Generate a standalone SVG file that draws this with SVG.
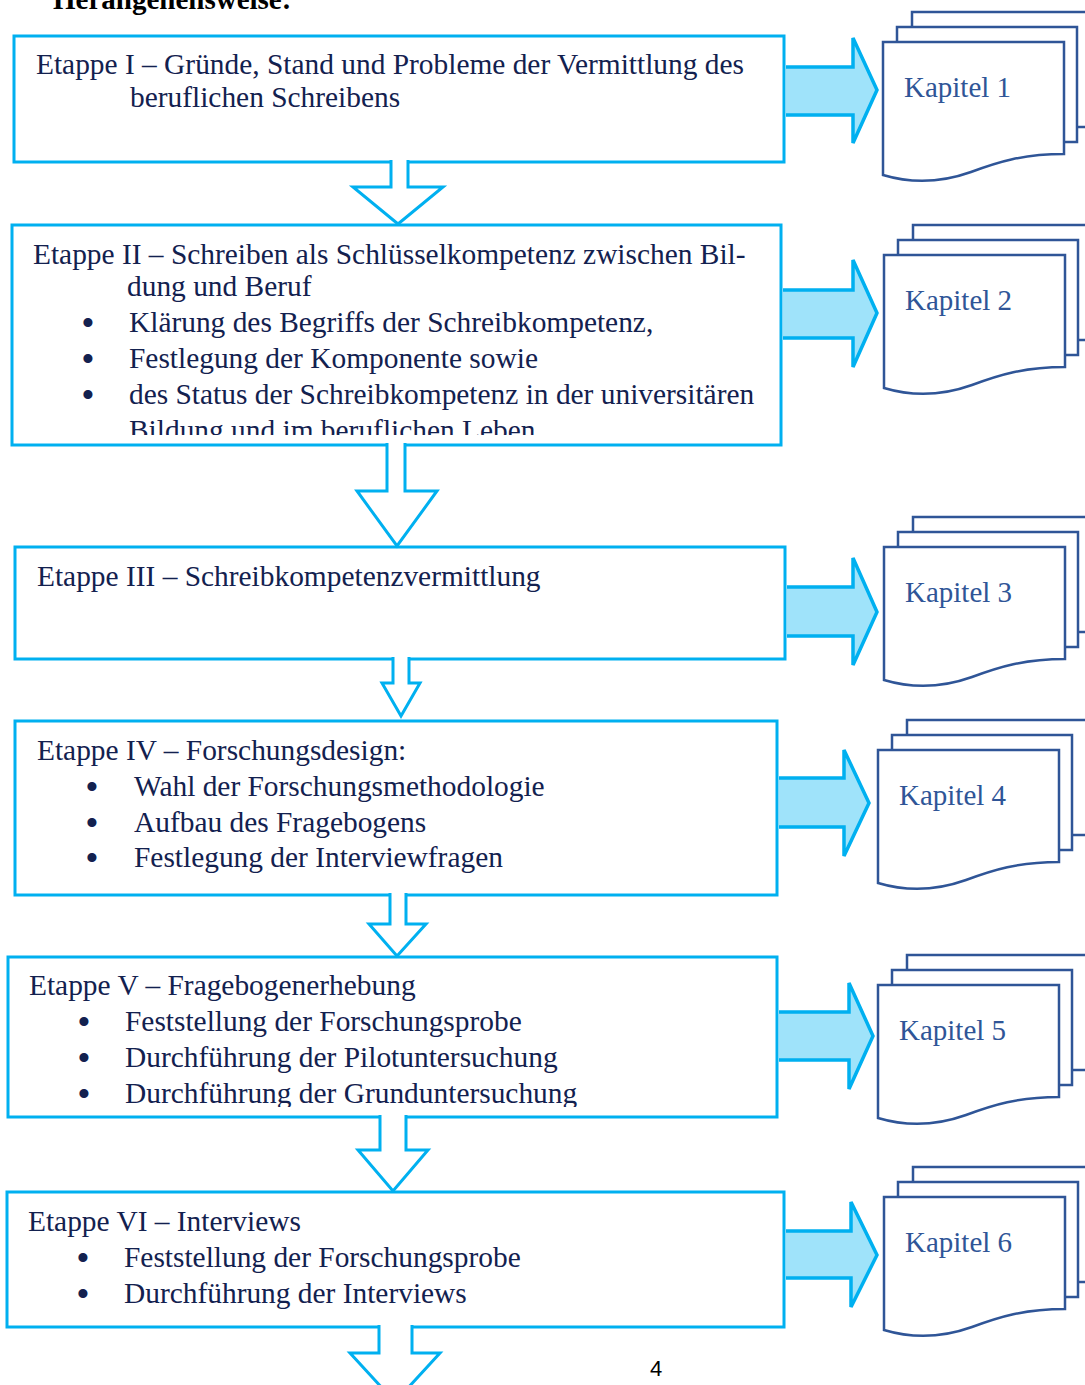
<svg xmlns="http://www.w3.org/2000/svg" xmlns:xlink="http://www.w3.org/1999/xlink" width="1085" height="1385" viewBox="0 0 1085 1385">
<style>
.box{fill:#fff;stroke:#00b0f0;stroke-width:3}
.down{fill:#fff;stroke:#00b0f0;stroke-width:3;stroke-linejoin:miter}
.right{fill:#9fe3fa;stroke:#00b0f0;stroke-width:3.5;stroke-linejoin:miter}
.pg{fill:#fff;stroke:#2f5597;stroke-width:2.5}
.t{font-family:"Liberation Serif","Times New Roman",serif;font-size:29.4px;fill:#13214f}
.k{font-family:"Liberation Serif","Times New Roman",serif;font-size:29px;fill:#2f5597}
.b{font-family:"Liberation Serif","Times New Roman",serif;font-size:38px;fill:#13214f;text-anchor:middle}
</style>
<defs>
<g id="doc">
<rect class="pg" x="29" y="-30" width="180" height="115"/>
<rect class="pg" x="14" y="-15" width="180" height="115"/>
<path class="pg" d="M0,0 H181 V112 C140,112 115,120 88,130 C60,140 30,142 0,133 Z"/>
</g>
<clipPath id="c2"><rect x="0" y="225" width="785" height="210"/></clipPath>
<clipPath id="c5"><rect x="0" y="957" width="785" height="150"/></clipPath>
</defs>
<rect width="1085" height="1385" fill="#fff"/>
<text x="53" y="9" style="font-family:'Liberation Serif',serif;font-size:29px;font-weight:bold;fill:#000">Herangehensweise:</text>

<g id="node1">
<rect class="box" x="14" y="36" width="770" height="126"/>
<text class="t" x="36" y="74">Etappe I – Gründe, Stand und Probleme der Vermittlung des</text>
<text class="t" x="130" y="107">beruflichen Schreibens</text>
</g>
<g id="node2">
<rect class="box" x="12" y="225" width="769" height="220"/>
<g clip-path="url(#c2)">
<text class="t" x="33" y="264">Etappe II – Schreiben als Schlüsselkompetenz zwischen Bil-</text>
<text class="t" x="127" y="296">dung und Beruf</text>
<text class="b" x="88" y="336">•</text><text class="t" x="129" y="332">Klärung des Begriffs der Schreibkompetenz,</text>
<text class="b" x="88" y="372">•</text><text class="t" x="129" y="368">Festlegung der Komponente sowie</text>
<text class="b" x="88" y="408">•</text><text class="t" x="129" y="404">des Status der Schreibkompetenz in der universitären</text>
<text class="t" x="129" y="440">Bildung und im beruflichen Leben</text>
</g>
</g>
<g id="node3">
<rect class="box" x="15" y="547" width="770" height="112"/>
<text class="t" x="37" y="586">Etappe III – Schreibkompetenzvermittlung</text>
</g>
<g id="node4">
<rect class="box" x="15" y="721" width="762" height="174"/>
<text class="t" x="37" y="760">Etappe IV – Forschungsdesign:</text>
<text class="b" x="92" y="800">•</text><text class="t" x="134" y="796">Wahl der Forschungsmethodologie</text>
<text class="b" x="92" y="836">•</text><text class="t" x="134" y="832">Aufbau des Fragebogens</text>
<text class="b" x="92" y="871">•</text><text class="t" x="134" y="867">Festlegung der Interviewfragen</text>
</g>
<g id="node5">
<rect class="box" x="8" y="957" width="769" height="160"/>
<g clip-path="url(#c5)">
<text class="t" x="29" y="995">Etappe V – Fragebogenerhebung</text>
<text class="b" x="84" y="1035">•</text><text class="t" x="125" y="1031">Feststellung der Forschungsprobe</text>
<text class="b" x="84" y="1071">•</text><text class="t" x="125" y="1067">Durchführung der Pilotuntersuchung</text>
<text class="b" x="84" y="1107">•</text><text class="t" x="125" y="1103">Durchführung der Grunduntersuchung</text>
</g>
</g>
<g id="node6">
<rect class="box" x="7" y="1192" width="777" height="135"/>
<text class="t" x="28" y="1231">Etappe VI – Interviews</text>
<text class="b" x="83" y="1271">•</text><text class="t" x="124" y="1267">Feststellung der Forschungsprobe</text>
<text class="b" x="83" y="1307">•</text><text class="t" x="124" y="1303">Durchführung der Interviews</text>
</g>

<g id="kapitel1"><use xlink:href="#doc" transform="translate(883,42)"/><text class="k" x="904" y="97">Kapitel 1</text></g>
<g id="kapitel2"><use xlink:href="#doc" transform="translate(884,255)"/><text class="k" x="905" y="310">Kapitel 2</text></g>
<g id="kapitel3"><use xlink:href="#doc" transform="translate(884,547)"/><text class="k" x="905" y="602">Kapitel 3</text></g>
<g id="kapitel4"><use xlink:href="#doc" transform="translate(878,750)"/><text class="k" x="899" y="805">Kapitel 4</text></g>
<g id="kapitel5"><use xlink:href="#doc" transform="translate(878,985)"/><text class="k" x="899" y="1040">Kapitel 5</text></g>
<g id="kapitel6"><use xlink:href="#doc" transform="translate(884,1197)"/><text class="k" x="905" y="1252">Kapitel 6</text></g>

<g id="connectors">
<path class="down" d="M391,160 V187 H353 L398,224 L443,187 H408 V160"/>
<path class="down" d="M387,443 V491 H357 L397,546 L437,491 H405 V443"/>
<path class="down" d="M393,657 V683 H382 L401,716 L420,683 H409 V657"/>
<path class="down" d="M390,893 V924 H369 L397,956 L426,924 H406 V893"/>
<path class="down" d="M380,1115 V1150 H358 L393,1191 L428,1150 H406 V1115"/>
<path class="down" d="M379,1325 V1353 H350 L395,1402 L440,1353 H412 V1325"/>

<path class="right" d="M786,67 H853 V38 L877,90 L853,143 V115 H786"/>
<path class="right" d="M783,290 H853 V260 L877,313 L853,367 V338 H783"/>
<path class="right" d="M787,587 H853 V558 L877,612 L853,665 V636 H787"/>
<path class="right" d="M779,778 H844 V750 L869,803 L844,856 V827 H779"/>
<path class="right" d="M779,1012 H849 V983 L873,1036 L849,1089 V1060 H779"/>
<path class="right" d="M786,1231 H851 V1202 L877,1255 L851,1307 V1278 H786"/>
</g>
<text x="650" y="1376" style="font-family:'Liberation Sans',sans-serif;font-size:22px;fill:#000">4</text>
</svg>
